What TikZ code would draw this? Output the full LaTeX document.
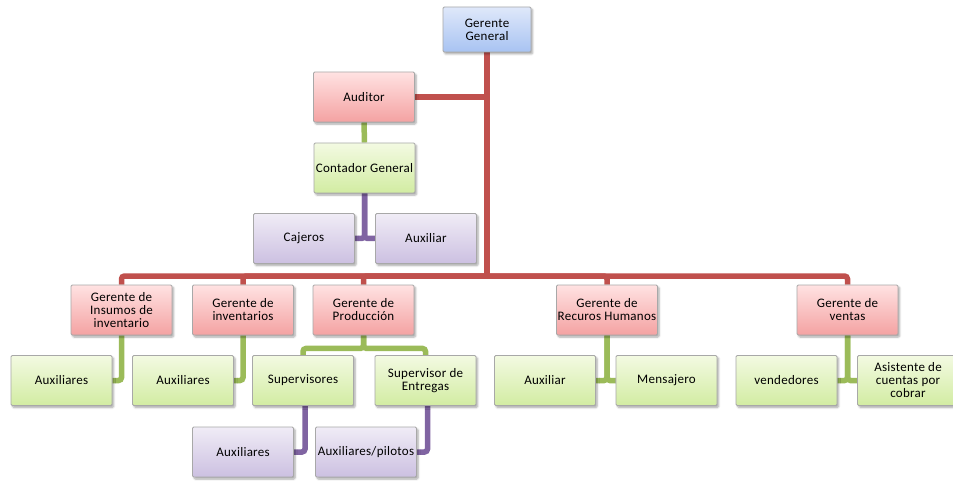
\documentclass[tikz,border=0pt]{standalone}
\usepackage{fontspec}
\setmainfont{Carlito}[LetterSpace=2]
\usetikzlibrary{shadings,shadows.blur,backgrounds}

\definecolor{redtop}{HTML}{FFE2E2}
\definecolor{redbot}{HTML}{F4A2A2}
\definecolor{greentop}{HTML}{F3FAE2}
\definecolor{greenbot}{HTML}{D2ECA2}
\definecolor{purpletop}{HTML}{F0ECF6}
\definecolor{purplebot}{HTML}{CCC0E1}
\definecolor{bluetop}{HTML}{DFE8FA}
\definecolor{bluebot}{HTML}{A8C3F2}
\definecolor{boxline}{HTML}{A8A8A8}
\definecolor{redline}{HTML}{C0504D}
\definecolor{greenline}{HTML}{9BBB59}
\definecolor{purpleline}{HTML}{8064A2}

\tikzset{
  orgbox/.style={rectangle, rounded corners=1.2pt, draw=boxline, line width=0.9pt,
    minimum width=101pt, minimum height=50pt, inner sep=0.5pt, align=center,
    font=\fontsize{13}{13}\selectfont,
    blur shadow={shadow xshift=1.6pt, shadow yshift=-2pt, shadow blur steps=6, shadow opacity=35}},
  bluebox/.style={orgbox, top color=bluetop, bottom color=bluebot},
  redbox/.style={orgbox, top color=redtop, bottom color=redbot},
  greenbox/.style={orgbox, top color=greentop, bottom color=greenbot},
  purplebox/.style={orgbox, top color=purpletop, bottom color=purplebot},
  link/.style={line width=5.5pt, rounded corners=3pt},
  redlink/.style={link, draw=redline},
  greenlink/.style={link, draw=greenline},
  purplelink/.style={link, draw=purpleline},
}

\begin{document}
\begin{tikzpicture}[x=1pt, y=-1pt]
\useasboundingbox (0,0) rectangle (953,481);

% top management
\node[bluebox, minimum width=88pt, minimum height=45pt] (gg) at (487,29.5) {Gerente\\General};
\node[redbox] (aud) at (364,97) {Auditor};
\node[greenbox] (cont) at (364.5,168) {Contador General};
\node[purplebox] (caj) at (304,238.5) {Cajeros};
\node[purplebox] (auxc) at (426,238.5) {Auxiliar};

% managers
\node[redbox] (g1) at (121.5,310) {Gerente de\\Insumos de\\inventario};
\node[redbox] (g2) at (243,310) {Gerente de\\inventarios};
\node[redbox] (g3) at (363.5,310) {Gerente de\\Producción};
\node[redbox] (g4) at (607,310) {Gerente de\\Recuros Humanos};
\node[redbox] (g5) at (847.5,310) {Gerente de\\ventas};

% staff
\node[greenbox] (a1) at (61.5,380.5) {Auxiliares};
\node[greenbox] (a2) at (183,380.5) {Auxiliares};
\node[greenbox] (sup) at (303,380.5) {Supervisores};
\node[greenbox] (ent) at (425.5,380.5) {Supervisor de\\Entregas};
\node[greenbox] (aux4) at (545,380.5) {Auxiliar};
\node[greenbox] (men) at (666.5,380.5) {Mensajero};
\node[greenbox] (ven) at (786.5,380.5) {vendedores};
\node[greenbox] (asi) at (908,380.5) {Asistente de\\cuentas por\\cobrar};

% production staff
\node[purplebox] (p1) at (243,452) {Auxiliares};
\node[purplebox] (p2) at (366,452) {Auxiliares/pilotos};

\coordinate (bus) at (487,276);

\begin{pgfonlayer}{background}
  % red reporting lines
  \draw[redlink] (gg.south) -- (bus);
  \draw[redlink] (aud.east) -- (aud.east -| bus);
  \draw[redlink] (bus) -| (g1.north);
  \draw[redlink] (bus) -| (g2.north);
  \draw[redlink] (bus) -| (g3.north);
  \draw[redlink] (bus) -| (g4.north);
  \draw[redlink] (bus) -| (g5.north);
  % green reporting lines
  \draw[greenlink] (aud.south) -- (cont.north);
  \draw[greenlink] (g1.south) |- (a1.east);
  \draw[greenlink] (g2.south) |- (a2.east);
  \draw[greenlink] (g3.south) -- ++(0,13) -| (sup.north);
  \draw[greenlink] (g3.south) -- ++(0,13) -| (ent.north);
  \draw[greenlink] (g4.south) |- (aux4.east);
  \draw[greenlink] (g4.south) |- (men.west);
  \draw[greenlink] (g5.south) |- (ven.east);
  \draw[greenlink] (g5.south) |- (asi.west);
  % purple reporting lines
  \draw[purplelink] (cont.south) |- (caj.east);
  \draw[purplelink] (cont.south) |- (auxc.west);
  \draw[purplelink] ([xshift=2pt]sup.south) |- (p1.east);
  \draw[purplelink] ([xshift=2pt]ent.south) |- (p2.east);
\end{pgfonlayer}
\end{tikzpicture}
\end{document}
